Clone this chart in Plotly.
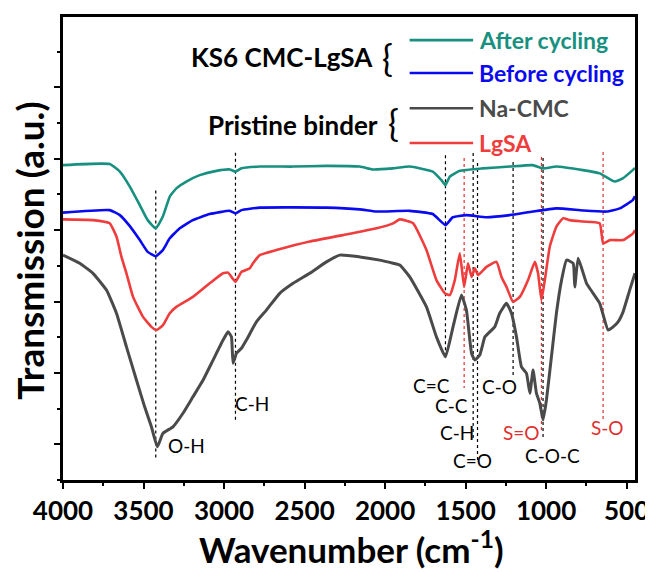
import plotly.graph_objects as go

# ---------------- data ----------------
after_wn = [4000, 3710, 3647, 3585, 3523, 3474, 3424, 3380, 3337, 3296, 3234, 3151, 3047, 2964, 2929,
            2892, 2778, 2573, 2364, 2157, 2076, 1952, 1847, 1704, 1650, 1625, 1598, 1536, 1393, 1226,
            1083, 1021, 936, 772, 667, 574, 524, 462, 448]
after_t = [8.82, 8.85, 8.64, 8.22, 7.70, 7.28, 7.05, 7.38, 7.94, 8.17, 8.36, 8.54, 8.66, 8.70, 8.64,
           8.73, 8.78, 8.78, 8.80, 8.78, 8.70, 8.73, 8.78, 8.64, 8.40, 8.26, 8.50, 8.66, 8.73, 8.78,
           8.82, 8.73, 8.78, 8.68, 8.59, 8.36, 8.45, 8.68, 8.74]

before_wn = [4000, 3710, 3647, 3585, 3523, 3474, 3424, 3380, 3337, 3275, 3194, 3089, 2964, 2929, 2892,
             2778, 2364, 2157, 2053, 1847, 1704, 1625, 1580, 1495, 1370, 1226, 1083, 936, 772, 625,
             542, 462, 448]
before_t = [7.49, 7.56, 7.42, 7.11, 6.72, 6.39, 6.27, 6.44, 6.77, 7.05, 7.28, 7.45, 7.54, 7.47, 7.56,
            7.63, 7.63, 7.58, 7.52, 7.54, 7.45, 7.14, 7.36, 7.42, 7.36, 7.42, 7.52, 7.61, 7.55, 7.52,
            7.61, 7.84, 7.95]

cmc_wn = [4000, 3896, 3814, 3730, 3668, 3606, 3544, 3493, 3451, 3414, 3379, 3317, 3255, 3193, 3130,
          3068, 3006, 2975, 2954, 2944, 2923, 2892, 2861, 2799, 2737, 2654, 2571, 2468, 2364, 2281,
          2157, 2033, 1950, 1909, 1847, 1743, 1681, 1625, 1578, 1526, 1495, 1463, 1443, 1412, 1380,
          1350, 1319, 1288, 1246, 1215, 1184, 1153, 1122, 1101, 1081, 1060, 1039, 1019, 998, 967,
          936, 904, 873, 832, 822, 801, 749, 708, 667, 615, 584, 553, 522, 481, 448]
cmc_t = [6.30, 6.07, 5.79, 5.32, 4.67, 3.73, 2.80, 2.05, 1.49, 0.93, 1.31, 1.49, 1.87, 2.33, 2.80,
         3.36, 3.92, 4.15, 4.01, 3.27, 3.55, 3.69, 3.92, 4.43, 4.76, 5.23, 5.51, 5.79, 6.11, 6.30,
         6.25, 6.16, 6.07, 6.02, 5.69, 4.85, 4.01, 3.45, 4.29, 5.18, 4.76, 3.55, 3.36, 3.50, 4.01,
         4.15, 4.29, 4.67, 4.95, 4.67, 4.01, 3.17, 2.99, 2.43, 3.08, 2.43, 2.15, 1.68, 2.24, 3.45,
         4.67, 5.60, 6.16, 6.07, 5.41, 6.21, 5.51, 5.23, 4.95, 4.20, 4.29, 4.43, 4.71, 5.32, 5.79]

lgsa_wn = [4000, 3814, 3710, 3668, 3637, 3606, 3565, 3503, 3451, 3420, 3379, 3337, 3296, 3193, 3089,
           3006, 2975, 2929, 2892, 2840, 2820, 2778, 2675, 2468, 2261, 2053, 1950, 1909, 1826, 1743,
           1681, 1629, 1598, 1567, 1536, 1509, 1485, 1463, 1443, 1422, 1370, 1308, 1277, 1246, 1205,
           1163, 1112, 1070, 1050, 1029, 1008, 977, 936, 894, 853, 770, 667, 646, 604, 522, 460, 448]
lgsa_t = [7.30, 7.28, 7.19, 6.82, 6.25, 5.79, 5.13, 4.57, 4.29, 4.20, 4.34, 4.67, 4.85, 5.13, 5.51,
          5.79, 5.81, 5.55, 5.83, 5.93, 6.07, 6.30, 6.44, 6.68, 6.86, 7.05, 7.19, 7.30, 7.19, 6.44,
          5.60, 5.23, 5.18, 5.60, 6.35, 5.41, 6.07, 5.69, 5.93, 5.74, 5.97, 6.11, 5.69, 5.41, 4.99,
          5.13, 5.60, 6.11, 5.79, 5.04, 5.60, 6.54, 7.10, 7.33, 7.28, 7.24, 7.19, 6.63, 6.72, 6.72,
          6.91, 7.00]

series_names = ["After cycling", "Before cycling", "Na-CMC", "LgSA"]
group_labels = ["KS6 CMC-LgSA", "Pristine binder"]
x_title = "Wavenumber (cm<sup>-1</sup>)"
y_title = "Transmission (a.u.)"

# band assignments
band_labels = ["O-H", "C-H", "C=C", "C-C", "C-H", "C=O", "C-O", "S=O", "C-O-C", "S-O"]
band_wn = [3424, 2929, 1625, 1509, 1453, 1426, 1205, 1029, 1019, 646]
band_y0 = [8.11, 9.17, 9.10, 9.02, 9.16, 8.88, 8.91, 9.05, 9.02, 9.19]
band_y1 = [0.62, 1.68, 3.45, 2.58, 1.12, 0.56, 2.94, 1.40, 1.12, 1.68]
band_red = [False, False, False, True, False, False, False, True, False, True]
label_wn = [3232, 2828, 1710, 1586, 1555, 1455, 1288, 1151, 959, 617]
label_y = [0.98, 2.13, 2.66, 2.10, 1.32, 0.56, 2.61, 1.32, 0.70, 1.46]
label_red = [False, False, False, False, False, False, False, True, False, True]

x_ticks = [4000, 3500, 3000, 2500, 2000, 1500, 1000, 500]

# ---------------- styles ----------------
TEAL = "#17907f"
BLUE = "#0a0af0"
GRAY = "#4a4a4a"
RED = "#ef3d3d"
DOT_RED = "#e03030"
FONT = "Lato"

fig = go.Figure()
for wn, t, name, col, w in [
    (cmc_wn, cmc_t, series_names[2], GRAY, 3),
    (lgsa_wn, lgsa_t, series_names[3], RED, 2.6),
    (before_wn, before_t, series_names[1], BLUE, 2.6),
    (after_wn, after_t, series_names[0], TEAL, 2.6),
]:
    fig.add_trace(go.Scatter(x=wn, y=t, mode="lines", name=name,
                             line=dict(color=col, width=w, shape="spline", smoothing=0.4),
                             showlegend=False, hoverinfo="skip"))

shapes = []
for wn, y0, y1, red in zip(band_wn, band_y0, band_y1, band_red):
    shapes.append(dict(type="line", xref="x", yref="y", x0=wn, x1=wn, y0=y0, y1=y1,
                       line=dict(color=DOT_RED if red else "black", width=1.2, dash="dot"), layer="below"))

annotations = []
for lab, x, y, red in zip(band_labels, label_wn, label_y, label_red):
    annotations.append(dict(x=x, y=y, xref="x", yref="y", text=lab, showarrow=False,
                            font=dict(family=FONT, size=19, color=DOT_RED if red else "black"),
                            xanchor="center", yanchor="middle"))

# custom legend (paper coordinates)
leg_cols = [TEAL, BLUE, GRAY, RED]
leg_y = [0.950, 0.879, 0.803, 0.728]
for name, col, y in zip(series_names, leg_cols, leg_y):
    shapes.append(dict(type="line", xref="paper", yref="paper", x0=0.606, x1=0.717, y0=y, y1=y,
                       line=dict(color=col, width=2.6)))
    annotations.append(dict(x=0.724, y=y, xref="paper", yref="paper", text="<b>%s</b>" % name,
                            showarrow=False, xanchor="left", yanchor="middle",
                            font=dict(family=FONT, size=23, color=col)))
for lab, y, bx, by in zip(group_labels, [0.914, 0.767], [0.568, 0.577], [0.911, 0.771]):
    annotations.append(dict(x=bx - 0.022, y=y, xref="paper", yref="paper", text="<b>%s</b>" % lab,
                            showarrow=False, xanchor="right", yanchor="middle",
                            font=dict(family=FONT, size=26, color="black")))
    annotations.append(dict(x=bx, y=by, xref="paper", yref="paper", text="{",
                            showarrow=False, xanchor="center", yanchor="middle",
                            font=dict(family=FONT, size=36, color="black")))

# axis titles as annotations for exact placement
annotations.append(dict(x=0.503, y=-0.145, xref="paper", yref="paper", text="<b>%s</b>" % x_title,
                        showarrow=False, xanchor="center", yanchor="middle",
                        font=dict(family=FONT, size=35, color="black")))
annotations.append(dict(x=-0.058, y=0.495, xref="paper", yref="paper", text="<b>%s</b>" % y_title,
                        showarrow=False, xanchor="center", yanchor="middle", textangle=-90,
                        font=dict(family=FONT, size=37, color="black")))

# page body has an 8px margin: figure occupies 645x564 of the 653x572 window
fig.update_layout(
    width=645, height=564,
    margin=dict(l=55, r=18, t=9, b=92),
    paper_bgcolor="white", plot_bgcolor="white",
    shapes=shapes, annotations=annotations,
    font=dict(family=FONT, color="black"),
)
fig.update_xaxes(
    range=[4000, 448], tickvals=x_ticks, ticktext=[str(v) for v in x_ticks],
    ticks="outside", ticklen=6, tickwidth=2, tickcolor="black",
    minor=dict(ticks="outside", ticklen=3, tickwidth=2, dtick=250, tick0=0, tickcolor="black"),
    showline=True, linewidth=3, linecolor="black", mirror=True,
    showgrid=False, zeroline=False, automargin=False,
    tickfont=dict(family=FONT, size=26, color="black", weight="bold"),
)
fig.update_yaxes(
    range=[0, 12.97], tick0=1, dtick=2, showticklabels=False,
    ticks="outside", ticklen=6, tickwidth=2, tickcolor="black",
    minor=dict(ticks="outside", ticklen=3, tickwidth=2, dtick=1, tick0=0, tickcolor="black"),
    showline=True, linewidth=3, linecolor="black", mirror=True,
    showgrid=False, zeroline=False, automargin=False,
)

fig.write_html("out.html")
